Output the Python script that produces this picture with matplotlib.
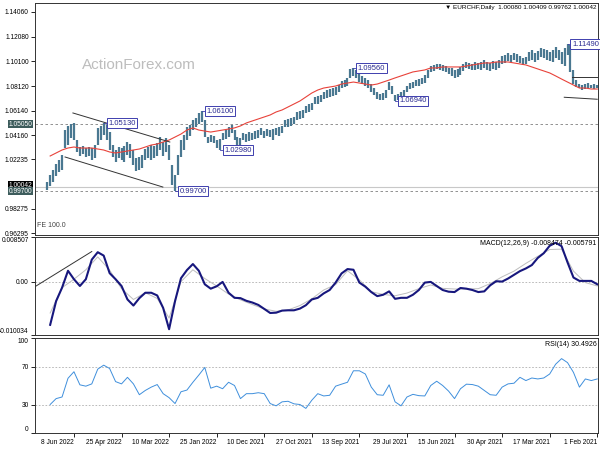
import numpy as np
import matplotlib
matplotlib.use('Agg')
import matplotlib.pyplot as plt
import matplotlib.transforms as mtransforms

plt.rcParams['font.family'] = ['Liberation Sans', 'DejaVu Sans']
plt.rcParams['font.size'] = 5

# EURCHF daily, oldest first (1 Feb 2021). One entry per two daily bars.
bar_hi = [
    1.0820, 1.0828, 1.0820, 1.0836, 1.0828, 1.0820, 1.0828, 1.0860, 1.0941, 1.1141,
    1.1149, 1.1117, 1.1085, 1.1101, 1.1125, 1.1101, 1.1085, 1.1101, 1.1109, 1.1117,
    1.1093, 1.1077, 1.1101, 1.1085, 1.1045, 1.1037, 1.1053, 1.1069, 1.1077, 1.1061,
    1.1077, 1.1061, 1.1053, 1.1021, 1.1005, 1.1013, 1.0997, 1.1005, 1.1021, 1.1005,
    1.0997, 1.1005, 1.0989, 1.0997, 1.1005, 1.0989, 1.0965, 1.0949, 1.0941, 1.0957,
    1.0957, 1.0973, 1.0981, 1.0989, 1.0989, 1.0981, 1.0973, 1.0941, 1.0901, 1.0877,
    1.0868, 1.0860, 1.0844, 1.0836, 1.0812, 1.0780, 1.0764, 1.0748, 1.0740, 1.0812,
    1.0844, 1.0780, 1.0756, 1.0748, 1.0764, 1.0796, 1.0828, 1.0860, 1.0877, 1.0893,
    1.0917, 1.0941, 1.0956, 1.0949, 1.0877, 1.0860, 1.0852, 1.0820, 1.0804, 1.0796,
    1.0788, 1.0780, 1.0764, 1.0740, 1.0732, 1.0724, 1.0676, 1.0668, 1.0652, 1.0620,
    1.0612, 1.0604, 1.0564, 1.0556, 1.0548, 1.0540, 1.0492, 1.0484, 1.0476, 1.0467,
    1.0459, 1.0467, 1.0451, 1.0476, 1.0459, 1.0451, 1.0435, 1.0443, 1.0427, 1.0435,
    1.0395, 1.0403, 1.0459, 1.0500, 1.0484, 1.0459, 1.0435, 1.0387, 1.0379, 1.0411,
    1.0419, 1.0403, 1.0540, 1.0610, 1.0596, 1.0556, 1.0540, 1.0500, 1.0484, 1.0419,
    1.0379, 1.0259, 1.0099, 1.0179, 1.0339, 1.0395, 1.0363, 1.0403, 1.0355, 1.0331,
    1.0339, 1.0323, 1.0307, 1.0259, 1.0243, 1.0235, 1.0299, 1.0347, 1.0363, 1.0331,
    1.0315, 1.0323, 1.0299, 1.0339, 1.0443, 1.0500, 1.0513, 1.0492, 1.0476, 1.0339,
    1.0315, 1.0323, 1.0315, 1.0331, 1.0323, 1.0379, 1.0516, 1.0508, 1.0492, 1.0459,
    1.0259, 1.0219, 1.0187, 1.0139, 1.0099, 1.0041]
bar_lo = [
    1.0796, 1.0788, 1.0796, 1.0796, 1.0788, 1.0780, 1.0796, 1.0804, 1.0828, 1.0925,
    1.1061, 1.0973, 1.0989, 1.1021, 1.1037, 1.1005, 1.1013, 1.1021, 1.1037, 1.1045,
    1.1021, 1.1005, 1.1021, 1.1013, 1.0989, 1.0981, 1.0997, 1.1005, 1.1021, 1.1005,
    1.1013, 1.0997, 1.0989, 1.0957, 1.0941, 1.0949, 1.0933, 1.0941, 1.0957, 1.0941,
    1.0949, 1.0941, 1.0941, 1.0949, 1.0957, 1.0933, 1.0901, 1.0885, 1.0877, 1.0893,
    1.0909, 1.0925, 1.0933, 1.0941, 1.0949, 1.0933, 1.0925, 1.0877, 1.0836, 1.0828,
    1.0812, 1.0812, 1.0796, 1.0788, 1.0764, 1.0724, 1.0708, 1.0700, 1.0694, 1.0748,
    1.0780, 1.0716, 1.0700, 1.0700, 1.0708, 1.0740, 1.0764, 1.0796, 1.0812, 1.0828,
    1.0844, 1.0877, 1.0893, 1.0877, 1.0812, 1.0804, 1.0796, 1.0764, 1.0740, 1.0732,
    1.0724, 1.0716, 1.0708, 1.0684, 1.0668, 1.0668, 1.0620, 1.0604, 1.0596, 1.0556,
    1.0548, 1.0540, 1.0508, 1.0492, 1.0484, 1.0484, 1.0435, 1.0411, 1.0419, 1.0379,
    1.0403, 1.0411, 1.0395, 1.0419, 1.0395, 1.0387, 1.0379, 1.0371, 1.0363, 1.0379,
    1.0323, 1.0331, 1.0379, 1.0435, 1.0403, 1.0387, 1.0379, 1.0298, 1.0315, 1.0355,
    1.0363, 1.0355, 1.0403, 1.0524, 1.0508, 1.0484, 1.0459, 1.0411, 1.0379, 1.0299,
    1.0243, 1.0099, 0.9970, 1.0019, 1.0219, 1.0283, 1.0251, 1.0299, 1.0251, 1.0235,
    1.0219, 1.0235, 1.0219, 1.0155, 1.0139, 1.0131, 1.0179, 1.0235, 1.0259, 1.0203,
    1.0219, 1.0235, 1.0203, 1.0243, 1.0299, 1.0379, 1.0419, 1.0379, 1.0339, 1.0235,
    1.0219, 1.0251, 1.0243, 1.0267, 1.0251, 1.0283, 1.0379, 1.0395, 1.0339, 1.0315,
    1.0139, 1.0123, 1.0091, 1.0043, 1.0011, 0.9976]

# indicators, one entry per four daily bars
ma = [
    1.0788, 1.0788, 1.0796, 1.0796, 1.0820, 1.0844, 1.0868, 1.0893, 1.0917, 1.0933,
    1.0949, 1.0965, 1.0981, 1.0989, 1.0997, 1.1005, 1.1005, 1.1005, 1.0997, 1.0997,
    1.0989, 1.0981, 1.0973, 1.0965, 1.0965, 1.0965, 1.0965, 1.0957, 1.0957, 1.0941,
    1.0933, 1.0925, 1.0909, 1.0893, 1.0877, 1.0860, 1.0844, 1.0828, 1.0820, 1.0828,
    1.0836, 1.0844, 1.0836, 1.0828, 1.0812, 1.0804, 1.0796, 1.0780, 1.0756, 1.0724,
    1.0692, 1.0668, 1.0644, 1.0620, 1.0604, 1.0580, 1.0564, 1.0548, 1.0532, 1.0516,
    1.0492, 1.0476, 1.0467, 1.0459, 1.0451, 1.0443, 1.0451, 1.0459, 1.0476, 1.0459,
    1.0427, 1.0403, 1.0379, 1.0363, 1.0347, 1.0339, 1.0323, 1.0307, 1.0299, 1.0291,
    1.0283, 1.0275, 1.0283, 1.0299, 1.0307, 1.0315, 1.0315, 1.0315, 1.0323, 1.0315,
    1.0299, 1.0275, 1.0251]
macd = [
    -0.00044, 0.00020, 0.00020, 0.00020, 0.00084, 0.00371, 0.00678, 0.00742, 0.00685, 0.00544,
    0.00455, 0.00320, 0.00256, 0.00205, 0.00135, 0.00065, 0.00007, 0.00014, -0.00063, -0.00178,
    -0.00191, -0.00152, -0.00127, -0.00114, -0.00191, -0.00184, -0.00152, -0.00076, 0.00001, -0.00012,
    -0.00152, -0.00242, -0.00300, -0.00300, -0.00319, -0.00178, -0.00242, -0.00268, -0.00191, -0.00089,
    -0.00012, 0.00231, 0.00244, 0.00161, -0.00012, -0.00152, -0.00216, -0.00300, -0.00331, -0.00440,
    -0.00504, -0.00536, -0.00536, -0.00542, -0.00581, -0.00587, -0.00510, -0.00434, -0.00389, -0.00357,
    -0.00306, -0.00300, -0.00204, 0.00001, -0.00082, -0.00127, -0.00044, 0.00212, 0.00339, 0.00225,
    0.00071, -0.00363, -0.00894, -0.00491, -0.00255, -0.00204, -0.00204, -0.00306, -0.00446, -0.00331,
    -0.00076, 0.00052, 0.00167, 0.00499, 0.00563, 0.00423, 0.00052, -0.00076, 0.00052, 0.00212,
    -0.00108, -0.00363, -0.00811]
rsi = [
    56.9, 55.2, 56.9, 48.3, 63.8, 74.1, 78.3, 72.4, 62.1, 57.9,
    56.9, 57.9, 55.2, 58.6, 52.4, 51.7, 48.3, 39.7, 40.3, 44.8,
    49.3, 51.0, 51.4, 46.6, 36.2, 44.1, 50.0, 54.5, 50.0, 39.0,
    39.3, 40.7, 37.9, 28.6, 32.8, 50.7, 39.7, 40.3, 48.3, 62.1,
    65.5, 65.5, 53.4, 51.4, 49.3, 39.7, 39.0, 41.4, 34.5, 25.9,
    30.0, 30.7, 33.4, 32.8, 28.6, 31.0, 41.4, 42.4, 41.4, 41.4,
    36.2, 50.0, 53.4, 46.6, 49.3, 47.2, 69.0, 61.0, 53.4, 45.2,
    43.4, 31.0, 37.2, 41.4, 51.0, 48.3, 44.8, 40.3, 51.7, 58.6,
    51.7, 54.1, 67.9, 71.4, 67.2, 51.7, 49.3, 50.7, 64.5, 57.6,
    37.9, 36.2, 30.0]
# signal line, one entry per eight daily bars
macd_signal = [
    -0.00076, -0.00012, 0.00205, 0.00621, 0.00614, 0.00486, 0.00352, 0.00205, 0.00097, -0.00031,
    -0.00127, -0.00133, -0.00133, -0.00121, -0.00057, -0.00127, -0.00210, -0.00261, -0.00236, -0.00184,
    0.00039, 0.00212, -0.00050, -0.00152, -0.00319, -0.00446, -0.00530, -0.00555, -0.00510, -0.00427,
    -0.00338, -0.00229, -0.00076, 0.00065, 0.00231, 0.00007, -0.00683, -0.00312, -0.00204, -0.00331,
    -0.00127, 0.00225, 0.00474, 0.00231, 0.00052, -0.00108, -0.00587]

date_ticks = [0, 32, 64, 96, 128, 160, 192, 224, 256, 288, 320, 352]
date_labels = ['1 Feb 2021', '17 Mar 2021', '30 Apr 2021', '15 Jun 2021', '29 Jul 2021',
               '13 Sep 2021', '27 Oct 2021', '10 Dec 2021', '25 Jan 2022', '10 Mar 2022',
               '25 Apr 2022', '8 Jun 2022']
price_ticks = [1.14060, 1.12080, 1.10100, 1.08120, 1.06140, 1.04160, 1.02235,
               0.98275, 0.96295]
pivot_labels = [1.11490, 1.09560, 1.06940, 1.06100, 1.02980, 0.99700, 1.05130]
level_lines = [1.05050, 0.99700]
last_price = 1.00042

# drawn trend lines: (bars, prices)
channel_upper = ([352.7, 287.5], [1.0596, 1.0363])
channel_lower = ([358.0, 292.2], [1.0243, 1.0002])
right_line_1 = ([16.8, 0.0], [1.0885, 1.0885])
right_line_2 = ([22.2, 0.0], [1.0722, 1.0706])
macd_line = ([378.2, 340.0], [-0.00089, 0.00576])

bar_col = '#4a7891'
box_col = '#3f3fae'

fig = plt.figure(figsize=(6, 4.5), dpi=100)
ax1 = fig.add_axes([35/600, 1 - 235/450, 563/600, 232/450])
ax2 = fig.add_axes([35/600, 1 - 335/450, 563/600, 98/450])
ax3 = fig.add_axes([35/600, 1 - 433/450, 563/600, 95/450])

for ax in (ax1, ax2, ax3):
    ax.set_xlim(378.2, -0.5)
    ax.tick_params(direction='out', length=3, width=0.6, pad=1.5, labelsize=4.8)
    for sp in ax.spines.values():
        sp.set_linewidth(0.7)
        sp.set_color('#333333')

# ---- main price panel
bars2 = np.arange(len(bar_hi)) * 2
ax1.axhline(last_price, color='#c8c8c8', lw=0.8, zorder=1)
for lv in level_lines:
    ax1.axhline(lv, color='#808080', lw=0.6, ls=(0, (3, 3)), zorder=1)
ax1.vlines(bars2, bar_lo, bar_hi, color=bar_col, lw=1.6, zorder=2)
ax1.plot(np.arange(len(ma)) * 4, ma, color='#e8423a', lw=0.8, zorder=3)
for tl in (channel_upper, channel_lower, right_line_1, right_line_2):
    ax1.plot(tl[0], tl[1], color='#333333', lw=0.7, zorder=3)

for val in pivot_labels:
    if val in bar_hi:
        b = 2 * bar_hi.index(val)
    else:
        b = 2 * bar_lo.index(val)
    ax1.plot([b, b - 3], [val, val], color=box_col, lw=0.6, zorder=4)
    ax1.text(b - 3, val, '%.5f' % val, ha='left', va='center', color='#2a2a90', fontsize=5.5,
             bbox=dict(boxstyle='square,pad=0.2', fc='white', ec=box_col, lw=0.7), zorder=5)

ax1.set_ylim(0.96173, 1.14779)
ax1.set_yticks(price_ticks)
ax1.set_yticklabels(['%.5f' % v for v in price_ticks])
ax1.set_xticks([])

# price tags on the axis (current price sits under the 0.99700 tag)
trans = mtransforms.blended_transform_factory(ax1.transAxes, ax1.transData)
ax1.text(-0.004, last_price + 0.0012, '%.5f' % last_price, transform=trans, ha='right',
         va='center', color='white', fontsize=4.8, clip_on=False, zorder=6,
         bbox=dict(boxstyle='square,pad=0.1', fc='black', ec='none'))
for lv in level_lines:
    ax1.text(-0.004, lv, '%.5f' % lv, transform=trans, ha='right', va='center',
             color='white', fontsize=4.8, clip_on=False, zorder=7,
             bbox=dict(boxstyle='square,pad=0.1', fc='#3d5c5c', ec='none'))

ax1.text(0.185, 0.733, 'ActionForex.com', transform=ax1.transAxes, ha='center', va='center',
         color='#bdbdbd', fontsize=11)
ax1.text(0.997, 0.99, '\u25bc EURCHF,Daily  1.00080 1.00409 0.99762 1.00042',
         transform=ax1.transAxes, ha='right', va='top', fontsize=4.6)
ax1.text(0.004, 0.025, 'FE 100.0', transform=ax1.transAxes, ha='left', va='bottom',
         color='#444444', fontsize=5)

# ---- MACD panel
ax2.axhline(0, color='#b0b0b0', lw=0.6, ls=(0, (2, 2)))
ax2.plot(np.arange(len(macd_signal)) * 8, macd_signal, color='#bdbdbd', lw=0.7)
ax2.plot(np.arange(len(macd)) * 4, macd, color='#17177d', lw=1.5)
ax2.plot(macd_line[0], macd_line[1], color='#333333', lw=0.7)
ax2.set_ylim(-0.010034, 0.008507)
ax2.set_yticks([-0.010034, 0.0, 0.008507])
ax2.set_yticklabels(['-0.010034', '0.00', '0.008507'])
tl = ax2.get_yticklabels()
tl[0].set_va('bottom')
tl[2].set_va('top')
ax2.set_xticks([])
ax2.text(0.997, 0.97, 'MACD(12,26,9) -0.008474 -0.005791', transform=ax2.transAxes,
         ha='right', va='top', fontsize=5)

# ---- RSI panel
for lv in (30, 70):
    ax3.axhline(lv, color='#b0b0b0', lw=0.6, ls=(0, (2, 2)))
ax3.plot(np.arange(len(rsi)) * 4, rsi, color='#3f8fdc', lw=0.7)
ax3.set_ylim(0, 100)
ax3.set_yticks([0, 30, 70, 100])
ax3.set_yticklabels(['0', '30', '70', '100'])
tl = ax3.get_yticklabels()
tl[0].set_va('bottom')
tl[3].set_va('top')
ax3.text(0.997, 0.97, 'RSI(14) 30.4926', transform=ax3.transAxes,
         ha='right', va='top', fontsize=5)
ax3.set_xticks(date_ticks)
ax3.set_xticklabels(date_labels)
for lbl in ax3.get_xticklabels():
    lbl.set_ha('right')

fig.savefig('out.png', dpi=100)
